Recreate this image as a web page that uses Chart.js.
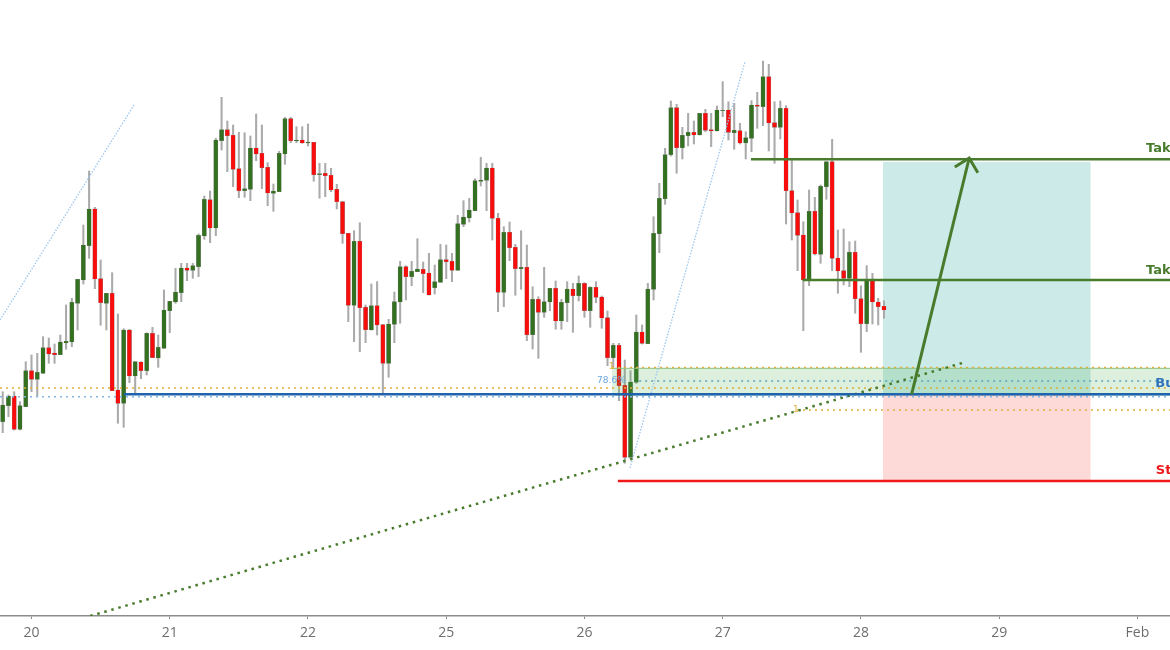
<!DOCTYPE html>
<html>
<head>
<meta charset="utf-8">
<style>
  html, body { margin: 0; padding: 0; background: #fff; overflow: hidden; }
  #wrap { width: 1170px; height: 650px; }
</style>
<script src="https://cdn.jsdelivr.net/npm/chart.js@4"></script>
</head>
<body>
<div id="wrap"><canvas id="chart" width="1170" height="650"></canvas></div>
<script>
// hourly candles, prices are in pips above the bottom of the panel
let opens = [
  194.3,210.3,220,186.7,209.3,245.3,236.7,242.7,268.3,263,261.3,273,274,312.7,336,370.3,407,337.3,312.7,322.7,
  226,212.7,286,240,254,245.3,282.7,258,267.7,305.3,314,323.3,348,345.7,349.3,380,416.3,388,475.3,486.3,
  480.7,447.3,425.3,426.7,468,462.7,448.7,422.7,424.3,462,497.3,475,476,473,473.7,441.3,442.7,440.7,426.7,414.3,
  382.7,310.7,374.7,308.7,286,310.3,291.3,252.7,291.7,314,349.3,339.3,344.3,346.7,343,328.3,333.7,356.3,354.7,345.7,
  391.7,398,405.3,434.7,435.7,448,397.7,323.7,383.7,368.7,347.3,348.7,281.3,316.7,303.7,314,327.7,295,313.3,327,
  320.3,332.7,305.3,328.7,319,298.3,258.3,270.7,230.7,158.7,233.7,284,272.3,326.7,382.3,417.3,461.3,508.3,468.3,480.3,
  483.7,481,502.7,486.3,485,505.3,506,483.3,485.3,473,477.7,511,509.3,539.3,493.3,488.7,507.7,425.3,403.3,381,
  336,404.7,361.7,429.3,454.3,358,345.3,337.7,363.7,317.3,292.3,335.7,314,309.7
];
let highs = [
  224.3,221,224.3,214.3,254.3,261,262.7,279.3,278,272,281,311,317.7,336.7,391,445,408.7,356,322.7,343.3,
  302,287.3,286.7,254.3,254.3,283.3,288.7,281,326,314.7,347.7,352.7,352.7,352.7,382,420,425,477.7,518.7,495,
  491,483.7,483.3,480,502,491,453.3,432,464.7,498.7,498.7,489.3,489.3,492,473.7,452.7,452.7,447.7,431.7,414.7,
  382.7,385.3,393.3,311,332,334.3,291.7,296.7,324,354.7,350.3,354.7,377.3,354,362.7,351,371.7,371,362.7,400.7,
  415.3,417.7,437.3,458.7,452.7,452.7,402.7,389.3,394,371.7,385.3,371,329.3,319.3,348.7,327.7,335,316.7,334.3,332.7,
  340,333.3,329.3,334.3,320,305,272.7,272.7,256,245.3,301,291,332.7,399.3,432.7,467.7,515,511.7,488.7,502.7,
  495,502.7,506.7,502.7,510,534.3,514.3,512.7,492.7,484.3,515.3,523.7,555,551.7,514.3,515,510.3,456,416,394.3,
  426,418.7,431,454.3,476.7,386,387,374.3,375,330.3,350.3,342.7,317.7,315.3
];
let lows = [
  183.3,199.3,186,186,209.3,224.3,220,242.7,252.7,252.7,261.3,266.7,269.3,286,332,357.7,327.3,290.7,286,225.3,
  192.7,188.7,233.3,222,237.3,241,258.3,248.7,267.7,283.3,312.7,314.3,335.3,337.7,339.3,376.7,373.3,380.3,466,444.3,
  429.3,418.3,418.7,415.3,455.3,427.3,410.3,404.7,424.3,451.7,473.3,473.3,472.7,470,434.7,417.7,419.3,424.3,407,372.7,
  294.3,274.3,264.3,273.3,286,281,222.7,238.7,273.3,292.7,316,330.3,344.3,323.3,321,322,333.7,337.3,334.3,345.7,
  389.3,394,405.3,430,405.3,376,304.3,309.3,355.3,320.7,326.7,275.3,267,257.7,298.7,305.3,286.7,286.7,294.3,283.7,
  315,298.7,288.7,313.3,287.7,250.3,249.3,215.3,152.7,157.7,232.7,272,272.3,316,363.3,411.7,460,442.7,457,470,
  472,481,484.3,469.3,485,499.3,476,466.7,472,457,464.3,487.7,490.3,465,452.7,477,392,376,345.3,285.3,
  330.3,361,352.7,416.7,345.3,322.7,331,329.3,302.7,263.7,284.3,292,291,297.7
];
let closes = [
  211,220,186.7,210.3,245.3,236.7,243.7,268.3,262,261.3,274,274.7,313.7,336.7,371,407,337,313.3,322.7,225.3,
  212.7,286,240,254.3,245.3,282.7,258.3,268.7,306,314.7,324,348,345.7,350.3,380.7,416.7,388,476,486.3,480.3,
  446.7,425.3,427.3,468,462,448.3,423,425,462.7,497.3,475.3,476,473,474,441.3,442.3,440.3,426,414.3,382.3,
  310.7,374.7,308.3,286.3,310.3,291,252.7,292,314.3,349.3,339.3,344.7,347,342.3,321,334.3,356.3,354.3,345.7,392.3,
  399,406,435.3,436,448,397.7,323.7,383.7,368.3,347.3,348.7,281.3,316.7,303.7,314.3,327.7,295,313.7,327,320.3,
  332.7,305.3,328.7,318.7,298,258.3,270.7,230.3,158.7,234,284,272.7,327,382.7,417.7,461.3,508.3,468.3,480.7,483.7,
  481,502.7,485.7,485,506,506,483.7,485.7,473,478.3,511,509.7,539.3,493,488.7,507.7,425.3,403,380.7,336,
  404.7,362,429.7,454.3,357.7,345,337.7,363.7,317.3,292.3,336,314,309.3,306
];

// time axis
let tickIndexes = [5, 29, 53, 77, 101, 125, 149, 173, 197];
let tickLabels = ["20", "21", "22", "25", "26", "27", "28", "29", "Feb"];

// trade levels
let takeProfit1 = 456.7;
let takeProfit2 = 336;
let buyLevel = 221.7;
let stopLoss = 135;
let fibZoneTop = 247.7;
let fibZoneBottom = 220.5;
let fib786 = 235;
let confluenceLevel = 228;
let supportDotted = 219.3;
let lowerFib = 206;
let rewardTop = 454;

let xMin = -0.47;
let xMax = 202.66;

let upColor = "#33701f";
let downColor = "#f80d0d";
let wickColor = "#aaaaaa";
let green = "#487b2c";
let orangeDot = "#e0ae3c";
let blueDot = "#86b6e4";

function line(points, color, width, dash, order) {
  return {
    type: "line",
    data: points.map((p) => ({ x: p[0], y: p[1] })),
    borderColor: color,
    borderWidth: width,
    borderDash: dash || [],
    pointRadius: 0,
    fill: false,
    tension: 0,
    order: order,
  };
}

function box(x0, x1, top, bottom, color, order) {
  return {
    type: "line",
    data: [{ x: x0, y: top }, { x: x1, y: top }],
    borderWidth: 0,
    pointRadius: 0,
    backgroundColor: color,
    fill: { value: bottom },
    order: order,
  };
}

let wicks = opens.map((o, i) => ({ x: i, y: [lows[i], highs[i]] }));
let bodies = opens.map((o, i) => ({ x: i, y: [o, closes[i]] }));
let bodyColors = opens.map((o, i) => (closes[i] >= o ? upColor : downColor));

let datasets = [
  box(152.8, 188.9, rewardTop, buyLevel, "rgba(0,150,136,0.2)", 9),
  box(152.8, 188.9, buyLevel, stopLoss, "rgba(244,67,54,0.2)", 9),
  { type: "bar", data: wicks, backgroundColor: wickColor, barThickness: 1.4, grouped: false, order: 8 },
  {
    type: "bar",
    data: bodies,
    backgroundColor: bodyColors,
    borderColor: "#8f8f8f",
    borderWidth: 0.4,
    borderSkipped: false,
    barThickness: 4.2,
    grouped: false,
    order: 7,
  },
  box(105.8, xMax, fibZoneTop, fibZoneBottom, "rgba(76,175,80,0.19)", 6),
  line([[105.8, fibZoneTop], [xMax, fibZoneTop]], "#93c886", 1, [], 6),
  line([[xMin, 296], [22.8, 511]], "#9cc6ee", 1.3, [1.5, 1.5], 5),
  line([[108.9, 148], [128.9, 555]], "#9cc6ee", 1.3, [1.5, 1.5], 5),
  line([[xMin, confluenceLevel], [xMax, confluenceLevel]], orangeDot, 1.5, [2, 4], 5),
  line([[xMin, supportDotted], [xMax, supportDotted]], blueDot, 1.5, [2, 4], 5),
  line([[105.8, fibZoneTop + 0.7], [xMax, fibZoneTop + 0.7]], orangeDot, 1.5, [2, 4], 5),
  line([[110.5, fib786], [xMax, fib786]], "#5ea3c4", 1.5, [2, 4], 5),
  line([[137.9, lowerFib], [xMax, lowerFib]], orangeDot, 1.5, [2, 4], 5),
  line([[15.2, 0], [167.2, 254]], green, 2.5, [2.5, 4.8], 4),
  line([[21.06, buyLevel], [xMax, buyLevel]], "#1f62ad", 2.5, [], 3),
  line([[105.8, buyLevel - 0.2], [xMax, buyLevel - 0.2]], "rgba(30,110,90,0.6)", 1.5, [], 3),
  line([[129.9, takeProfit1], [xMax, takeProfit1]], green, 2.5, [], 3),
  line([[138.9, takeProfit2], [xMax, takeProfit2]], green, 2.5, [], 3),
  line([[106.8, stopLoss], [xMax, stopLoss]], "#f01818", 2.5, [], 3),
  line([[157.8, buyLevel], [167.8, 458]], green, 3, [], 2),
  line([[165.3, 449], [167.8, 458], [169.3, 443.3]], green, 3, [], 2),
];

// text notes pinned to the chart by index and price
let notes = [
  { text: "Tak", x: 198.5, y: 467, color: "#487b2c", font: "bold 13px 'DejaVu Sans'" },
  { text: "Tak", x: 198.5, y: 345, color: "#487b2c", font: "bold 13px 'DejaVu Sans'" },
  { text: "Bu", x: 200.1, y: 232.5, color: "#2f74bd", font: "bold 13px 'DejaVu Sans'" },
  { text: "St", x: 200.2, y: 145, color: "#f01818", font: "bold 13px 'DejaVu Sans'" },
  { text: "78.6%", x: 103.2, y: 235, color: "#6aa7dd", font: "9px 'DejaVu Sans'" },
  { text: "1", x: 105.2, y: 249, color: orangeDot, font: "9px 'DejaVu Sans'" },
  { text: "1", x: 137.2, y: 206, color: orangeDot, font: "9px 'DejaVu Sans'" },
];

let notesPlugin = {
  id: "notes",
  afterDatasetsDraw(chart) {
    let ctx = chart.ctx;
    ctx.save();
    ctx.textBaseline = "middle";
    notes.forEach((n) => {
      ctx.font = n.font;
      ctx.fillStyle = n.color;
      ctx.fillText(n.text, chart.scales.x.getPixelForValue(n.x), chart.scales.y.getPixelForValue(n.y));
    });
    ctx.restore();
  },
};

new Chart(document.getElementById("chart"), {
  data: { datasets: datasets },
  plugins: [notesPlugin],
  options: {
    responsive: false,
    animation: false,
    layout: { padding: 0 },
    plugins: { legend: { display: false }, tooltip: { enabled: false } },
    scales: {
      x: {
        type: "linear",
        offset: false,
        min: xMin,
        max: xMax,
        afterBuildTicks: (scale) => {
          scale.ticks = tickIndexes.map((v) => ({ value: v }));
        },
        afterFit: (scale) => {
          scale.height = 34;
        },
        border: { color: "#8c8c8c", width: 1.5 },
        grid: { offset: false, drawOnChartArea: false, color: "#8c8c8c", tickLength: 3 },
        ticks: {
          autoSkip: false,
          maxRotation: 0,
          padding: 6,
          color: "#6e6e6e",
          font: { family: "'Open Sans'", size: 14 },
          callback: (v) => tickLabels[tickIndexes.indexOf(v)],
        },
      },
      y: { display: false, min: 0, max: 616 },
    },
  },
});
</script>
</body>
</html>
